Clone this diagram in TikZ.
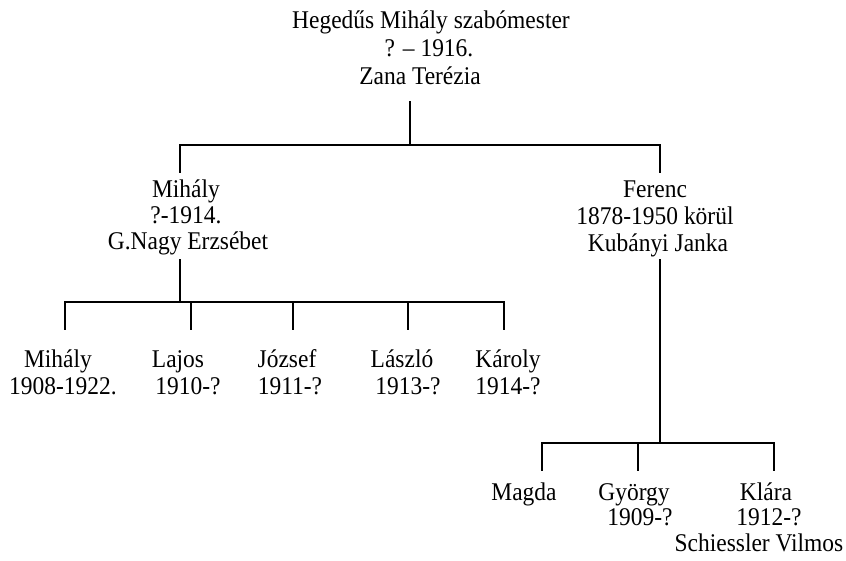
\documentclass[tikz,border=0pt]{standalone}
\usepackage{fontspec}
\setmainfont{Liberation Serif}
\newcommand{\sx}[1]{\scalebox{0.92}[1]{#1}}
\begin{document}
\begin{tikzpicture}[x=1pt,y=-1pt,
  lbl/.style={anchor=base,inner sep=0pt,font=\fontsize{25.5}{28}\selectfont},
  conn/.style={line width=1.6pt,line cap=rect}]
\useasboundingbox[fill=white] (0,0) rectangle (846,560);
% top couple
\node[lbl] (top1) at (431,28) {\sx{Hegedűs Mihály szabómester}};
\node[lbl] (top2) at (429,56) {\sx{? – 1916.}};
\node[lbl] (top3) at (420,84) {\sx{Zana Terézia}};
% generation 2
\node[lbl] (mi1) at (186,197) {\sx{Mihály}};
\node[lbl] (mi2) at (186,223) {\sx{?-1914.}};
\node[lbl] (mi3) at (188,249) {\sx{G.Nagy Erzsébet}};
\node[lbl] (fe1) at (655,197) {\sx{Ferenc}};
\node[lbl] (fe2) at (655,224) {\sx{1878-1950 körül}};
\node[lbl] (fe3) at (658,251) {\sx{Kubányi Janka}};
% children of Mihály
\node[lbl] (c1a) at (58,367) {\sx{Mihály}};
\node[lbl] (c1b) at (63,394) {\sx{1908-1922.}};
\node[lbl] (c2a) at (178,367) {\sx{Lajos}};
\node[lbl] (c2b) at (188,394) {\sx{1910-?}};
\node[lbl] (c3a) at (287,367) {\sx{József}};
\node[lbl] (c3b) at (290,394) {\sx{1911-?}};
\node[lbl] (c4a) at (402,367) {\sx{László}};
\node[lbl] (c4b) at (408,394) {\sx{1913-?}};
\node[lbl] (c5a) at (508,367) {\sx{Károly}};
\node[lbl] (c5b) at (508,394) {\sx{1914-?}};
% children of Ferenc
\node[lbl] (d1a) at (524,500) {\sx{Magda}};
\node[lbl] (d2a) at (634,500) {\sx{György}};
\node[lbl] (d2b) at (640,525) {\sx{1909-?}};
\node[lbl] (d3a) at (766,500) {\sx{Klára}};
\node[lbl] (d3b) at (769,525) {\sx{1912-?}};
\node[lbl] (d3c) at (759,551) {\sx{Schiessler Vilmos}};
% junction coordinates
\coordinate (t0) at (410,102);
\coordinate (j1) at (410,145);
\coordinate (b1L) at (180,145);
\coordinate (b1R) at (660,145);
\coordinate (m0) at (180,172);
\coordinate (f0) at (660,172);
\coordinate (m1) at (180,260);
\coordinate (j2) at (180,302);
\coordinate (f1) at (660,260);
\coordinate (j3) at (660,443);
\foreach \n/\x in {1/65,2/191,3/293,4/408,5/504}{
  \coordinate (p\n) at (\x,302);
  \coordinate (q\n) at (\x,329);
}
\foreach \n/\x in {1/542,2/638,3/774}{
  \coordinate (r\n) at (\x,443);
  \coordinate (s\n) at (\x,470);
}
% connectors
\draw[conn] (t0) -- (j1);
\draw[conn] (m0) -- (b1L) -- (b1R) -- (f0);
\draw[conn] (m1) -- (j2);
\draw[conn] (q1) -- (p1) -- (p5) -- (q5);
\foreach \n in {2,3,4}{ \draw[conn] (p\n) -- (q\n); }
\draw[conn] (f1) -- (j3);
\draw[conn] (s1) -- (r1) -- (r3) -- (s3);
\draw[conn] (r2) -- (s2);
\end{tikzpicture}
\end{document}
